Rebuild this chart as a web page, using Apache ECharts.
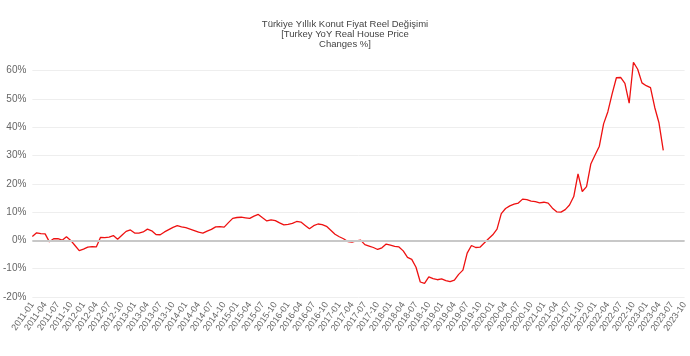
<!DOCTYPE html>
<html><head><meta charset="utf-8">
<script src="https://cdn.jsdelivr.net/npm/echarts@6/dist/echarts.min.js"></script>
<style>html,body{margin:0;padding:0;background:#fff}#c{width:690px;height:356px}</style>
</head><body><div id="c"></div>
<script>
const titleText = 'Türkiye Yıllık Konut Fiyat Reel Değişimi\n[Turkey YoY Real House Price\nChanges %]';
const startYear = 2011, endYear = 2023, endMonth = 10;
const values = [
 1.4, 2.7, 2.4, 2.3, -0.5, 0.6, 0.6, 0.1, 1.3, 0.0, -1.8, -3.6,
 -3.1, -2.4, -2.2, -2.3, 1.1, 1.0, 1.2, 1.7, 0.4, 1.8, 3.2, 3.7,
 2.6, 2.6, 3.0, 4.0, 3.4, 2.1, 2.0, 3.0, 3.8, 4.6, 5.2, 4.8,
 4.5, 4.0, 3.5, 2.9, 2.6, 3.3, 3.9, 4.8, 4.9, 4.7, 6.3, 7.8,
 8.1, 8.2, 8.0, 7.8, 8.6, 9.2, 8.0, 6.9, 7.3, 7.0, 6.2, 5.5,
 5.7, 6.0, 6.7, 6.5, 5.3, 4.1, 5.2, 5.8, 5.6, 5.0, 3.6, 2.2,
 1.3, 0.6, -0.4, -0.6, -0.2, 0.1, -1.5, -2.0, -2.5, -3.2, -2.6, -1.3,
 -1.7, -2.1, -2.3, -3.7, -6.0, -6.7, -9.5, -14.7, -15.2, -12.9, -13.5, -13.9,
 -13.6, -14.2, -14.6, -14.0, -12.0, -10.5, -4.5, -1.8, -2.5, -2.4, -0.9, 0.6,
 2.0, 4.0, 9.5, 11.3, 12.2, 12.8, 13.2, 14.6, 14.4, 13.9, 13.7, 13.3,
 13.5, 13.2, 11.4, 10.1, 10.0, 10.9, 12.5, 15.5, 23.5, 17.3, 19.0, 27.0,
 30.2, 33.3, 41.2, 45.5, 51.8, 57.5, 57.6, 55.5, 48.5, 63.0, 60.5, 55.7,
 54.7, 54.0, 47.0, 41.5, 31.8
];
const categories = [];
for (let y = startYear; y <= endYear; y++) {
  for (let m = 1; m <= 12; m++) {
    if (y === endYear && m > endMonth) break;
    categories.push(y + '-' + String(m).padStart(2, '0'));
  }
}
const yMin = -20, yMax = 60, yStep = 10;

const chart = echarts.init(document.getElementById('c'), null, {renderer: 'canvas'});
chart.setOption({
  animation: false,
  backgroundColor: '#fff',
  title: {
    text: titleText,
    left: 'center', top: 14,
    textStyle: {fontFamily: '"Liberation Sans", Arial, sans-serif', fontSize: 9.5, fontWeight: 'normal', color: '#444', lineHeight: 10, align: 'center'}
  },
  grid: {left: 32, right: 1, top: 70.7, bottom: 59},
  xAxis: {
    type: 'category', data: categories, boundaryGap: false,
    axisLine: {show: false}, axisTick: {show: false},
    axisLabel: {interval: 2, rotate: 55, fontSize: 9, color: '#666', margin: 6,
      fontFamily: '"Liberation Sans", Arial, sans-serif'},
    splitLine: {show: false}
  },
  yAxis: {
    type: 'value', min: yMin, max: yMax, interval: yStep,
    axisLine: {show: false}, axisTick: {show: false},
    axisLabel: {formatter: '{value}%', fontSize: 10, color: '#666', margin: 6,
      fontFamily: '"Liberation Sans", Arial, sans-serif'},
    splitLine: {lineStyle: {color: '#eeeeee', width: 1}}
  },
  series: [{
    type: 'line', data: values, symbol: 'none', clip: false,
    lineStyle: {color: '#ee1111', width: 1.3},
    markLine: {silent: true, symbol: 'none', label: {show: false},
      lineStyle: {color: '#c8c8c8', width: 2, type: 'solid'},
      data: [{yAxis: 0}]}
  }]
});
</script></body></html>
